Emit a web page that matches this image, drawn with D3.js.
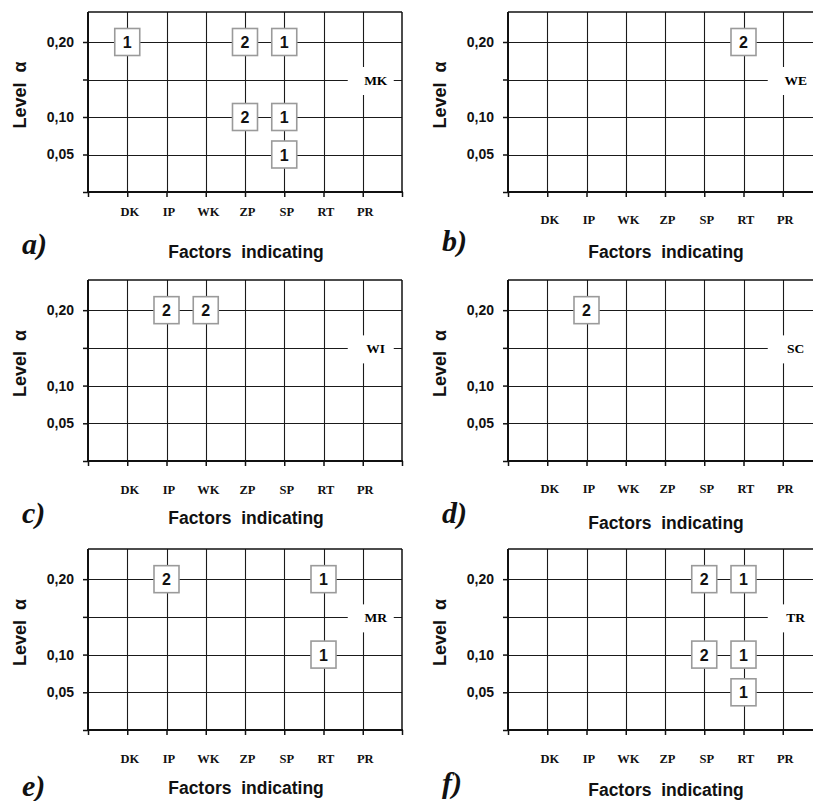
<!DOCTYPE html>
<html>
<head>
<meta charset="utf-8">
<script src="https://cdn.jsdelivr.net/npm/d3@7"></script>
<style>
  html, body { margin: 0; padding: 0; background: #fff; }
  svg { display: block; }
</style>
</head>
<body>
<script>
// Factors on the horizontal axis, significance levels on the vertical axis
const factors = ["DK", "IP", "WK", "ZP", "SP", "RT", "PR"];
const levelLabels = ["", "0,05", "0,10", "", "0,20"];   // tick index 0..4
const panelLetters = ["a)", "b)", "c)", "d)", "e)", "f)"];
const groupNames = ["MK", "WE", "WI", "SC", "MR", "TR"];

// [factor, level, count] for each group
const marksMK = [["DK", "0,20", 1], ["ZP", "0,20", 2], ["SP", "0,20", 1],
                 ["ZP", "0,10", 2], ["SP", "0,10", 1], ["SP", "0,05", 1]];
const marksWE = [["RT", "0,20", 2]];
const marksWI = [["IP", "0,20", 2], ["WK", "0,20", 2]];
const marksSC = [["IP", "0,20", 2]];
const marksMR = [["IP", "0,20", 2], ["RT", "0,20", 1], ["RT", "0,10", 1]];
const marksTR = [["SP", "0,20", 2], ["RT", "0,20", 1], ["SP", "0,10", 2],
                 ["RT", "0,10", 1], ["RT", "0,05", 1]];
const panelMarks = [marksMK, marksWE, marksWI, marksSC, marksMR, marksTR];

// Panel placement on the page
const layout = [
  { left: 88,  top: 12,  bottom: 192, tickLabelY: 216, titleY: 258, letterY: 254 },
  { left: 508, top: 12,  bottom: 192, tickLabelY: 224, titleY: 258, letterY: 251 },
  { left: 88,  top: 280, bottom: 461, tickLabelY: 494, titleY: 524, letterY: 523 },
  { left: 508, top: 280, bottom: 461, tickLabelY: 493, titleY: 529, letterY: 523 },
  { left: 88,  top: 549, bottom: 730, tickLabelY: 763, titleY: 794, letterY: 796 },
  { left: 508, top: 549, bottom: 730, tickLabelY: 763, titleY: 796, letterY: 793 }
];
const plotWidth = 314;

const sans = "Arial, 'Liberation Sans', sans-serif";
const serif = "'Times New Roman', 'Liberation Serif', serif";

const svg = d3.select("body").append("svg")
  .attr("width", 813).attr("height", 801);

panelMarks.forEach((marks, i) => {
  const L = layout[i];
  const x = d3.scaleLinear().domain([0, factors.length + 1]).range([L.left, L.left + plotWidth]);
  const y = d3.scaleLinear().domain([0, 4.8]).range([L.bottom, L.top]);
  const g = svg.append("g");
  const right = x(factors.length + 1);

  // grid
  g.selectAll("line.vg").data(factors).join("line")
    .attr("x1", (d, k) => Math.round(x(k + 1)) + 0.5)
    .attr("x2", (d, k) => Math.round(x(k + 1)) + 0.5)
    .attr("y1", L.top).attr("y2", L.bottom)
    .attr("stroke", "#1a1a1a").attr("stroke-width", 1.1);
  g.selectAll("line.hg").data([1, 2, 3, 4]).join("line")
    .attr("x1", L.left).attr("x2", right)
    .attr("y1", d => Math.round(y(d)) + 0.5)
    .attr("y2", d => Math.round(y(d)) + 0.5)
    .attr("stroke", "#1a1a1a").attr("stroke-width", 1.1);

  // group name box on the unlabeled level line
  const gx = x(factors.length), gy = y(3);
  g.append("rect")
    .attr("x", gx - 15).attr("y", gy - 12.5)
    .attr("width", 46).attr("height", 28)
    .attr("fill", "#fff");
  g.append("text")
    .attr("x", gx + 13).attr("y", gy + 5)
    .attr("text-anchor", "middle")
    .style("font-family", serif).style("font-weight", "bold").style("font-size", "13.5px")
    .text(groupNames[i]);

  // frame
  g.append("line").attr("x1", L.left).attr("x2", right).attr("y1", L.top).attr("y2", L.top)
    .attr("stroke", "#111").attr("stroke-width", 1.5);
  g.append("line").attr("x1", right).attr("x2", right).attr("y1", L.top).attr("y2", L.bottom)
    .attr("stroke", "#111").attr("stroke-width", 1.5);

  // left axis
  const yAxis = d3.axisLeft(y).tickValues([0, 1, 2, 3, 4])
    .tickSize(5).tickPadding(9).tickFormat(d => levelLabels[d]);
  const ya = g.append("g").attr("transform", `translate(${L.left},0)`).call(yAxis);
  ya.select(".domain").attr("stroke", "#111").attr("stroke-width", 2).attr("d",
    `M0,${L.top}V${L.bottom}`);
  ya.selectAll(".tick line").attr("stroke", "#111").attr("stroke-width", 1.5);
  ya.selectAll(".tick text")
    .style("font-family", sans).style("font-weight", "bold").style("font-size", "14px")
    .attr("fill", "#111");

  // bottom axis
  const xAxis = d3.axisBottom(x).tickValues(d3.range(0, factors.length + 2))
    .tickSize(5).tickFormat(d => factors[d - 1] || "");
  const xa = g.append("g").attr("transform", `translate(0,${L.bottom})`).call(xAxis);
  xa.select(".domain").attr("stroke", "#111").attr("stroke-width", 2).attr("d",
    `M${L.left - 1},0H${right + 1}`);
  xa.selectAll(".tick line").attr("stroke", "#111").attr("stroke-width", 1.5);
  xa.selectAll(".tick text")
    .attr("y", L.tickLabelY - L.bottom).attr("dy", null).attr("dx", 2)
    .style("font-family", serif).style("font-weight", "bold").style("font-size", "12.5px")
    .attr("fill", "#111");

  // count boxes
  const boxW = 25, boxH = 27;
  const cells = g.selectAll("g.cell").data(marks).join("g")
    .attr("transform", d => `translate(${x(factors.indexOf(d[0]) + 1)},${y(levelLabels.indexOf(d[1]))})`);
  cells.append("rect")
    .attr("x", -boxW / 2).attr("y", -boxH / 2)
    .attr("width", boxW).attr("height", boxH)
    .attr("fill", "#fff").attr("stroke", "#9a9a9a").attr("stroke-width", 1.6);
  cells.append("text")
    .attr("text-anchor", "middle").attr("y", 6)
    .style("font-family", sans).style("font-weight", "bold").style("font-size", "16px")
    .attr("fill", "#111")
    .text(d => d[2]);

  // axis titles
  g.append("text")
    .attr("transform", `translate(${L.left - 62},${(L.top + L.bottom) / 2 - 7}) rotate(-90)`)
    .attr("text-anchor", "middle")
    .style("font-family", sans).style("font-weight", "bold").style("font-size", "18px")
    .attr("fill", "#111")
    .text("Level\u00a0\u00a0α");
  g.append("text")
    .attr("x", L.left + 158).attr("y", L.titleY)
    .attr("text-anchor", "middle")
    .style("font-family", sans).style("font-weight", "bold").style("font-size", "17.5px")
    .attr("fill", "#111")
    .text("Factors\u00a0\u00a0indicating");

  // panel letter
  g.append("text")
    .attr("x", L.left - 66).attr("y", L.letterY)
    .style("font-family", serif).style("font-weight", "bold").style("font-style", "italic")
    .style("font-size", "30px")
    .attr("fill", "#111")
    .text(panelLetters[i]);
});
</script>
</body>
</html>
